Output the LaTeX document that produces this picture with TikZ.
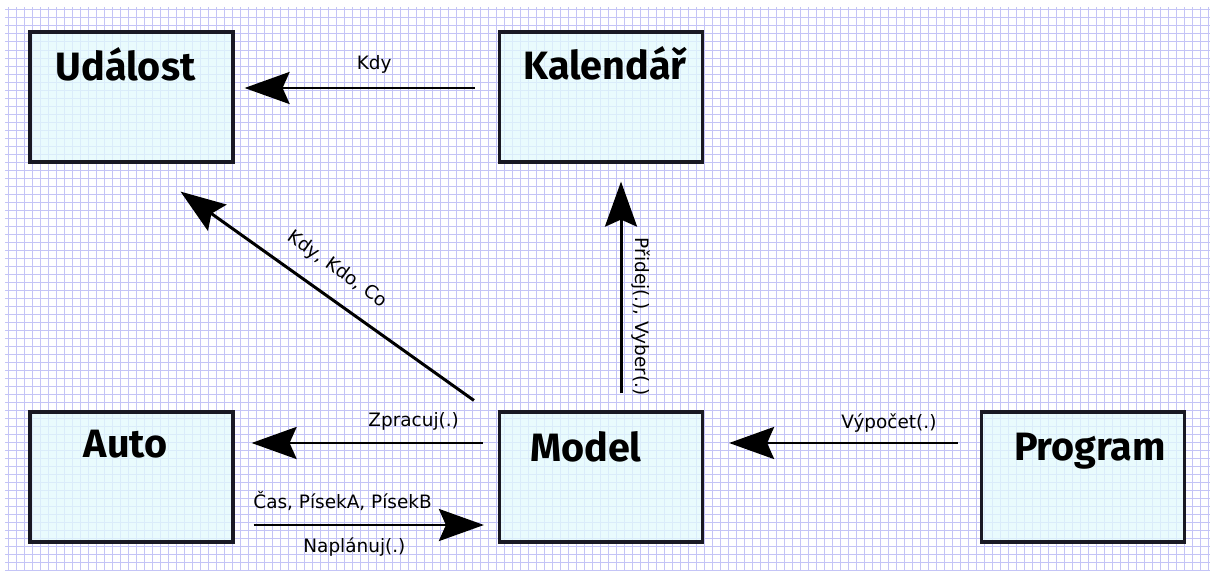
\documentclass[tikz,border=0pt]{standalone}
\usepackage{fontspec}
\setmainfont{DejaVu Sans}
\newfontfamily\boxfont{Fira Sans}
\usetikzlibrary{arrows.meta}

\definecolor{gridblue}{RGB}{196,196,246}
\definecolor{boxfill}{RGB}{226,250,252}
\definecolor{boxline}{RGB}{25,25,35}

\begin{document}
\begin{tikzpicture}[
    >={Stealth[length=0.9cm, width=0.64cm, inset=0.14cm]}, % Big arrow tips
    box/.style={draw=boxline, line width=1.8pt, fill=boxfill, fill opacity=0.75,
        minimum width=4.06cm, minimum height=2.6cm, inner sep=0pt},
    title/.style={font=\boxfont\bfseries\fontsize{22.5}{26}\selectfont, anchor=base},
    msg/.style={font=\fontsize{10.5}{12}\selectfont},
    link/.style={->, line width=1.7pt}
]

    \useasboundingbox (0, 0) rectangle (24.2, 11.4);

    % Squared paper
    \draw[gridblue, line width=0.55pt, step=0.16] (0.1, 0) grid (24.2, 11.26);

    % Classes
    \node[box] (udalost) at (2.63, 9.46) {};
    \node[box] (kalendar) at (12.02, 9.46) {};
    \node[box] (auto) at (2.63, 1.86) {};
    \node[box] (model) at (12.02, 1.86) {};
    \node[box] (program) at (21.66, 1.86) {};

    % Class names, near the top of each box
    \node[title] (udalostname) at ([xshift=-0.12cm, yshift=-1cm]udalost.north) {Událost};
    \node[title] (kalendarname) at ([xshift=0.08cm, yshift=-0.98cm]kalendar.north) {Kalendář};
    \node[title] (autoname) at ([xshift=-0.12cm, yshift=-0.94cm]auto.north) {Auto};
    \node[title] (modelname) at ([xshift=-0.3cm, yshift=-1.02cm]model.north) {Model};
    \node[title] (programname) at ([xshift=0.14cm, yshift=-1cm]program.north) {Program};

    % Messages
    \draw[link, shorten <=0.46cm, shorten >=0.2cm] ([yshift=0.18cm]kalendar.west) -- ([yshift=0.18cm]udalost.east)
        node[msg, pos=0.47, above=0.14cm] (kdy) {Kdy};
    \draw[link] ([xshift=-0.48cm, yshift=0.2cm]model.north west) -- ([xshift=0.98cm, yshift=-0.56cm]udalost.south)
        node[msg, pos=0.52, sloped, above=0.22cm] (kdykdoco) {Kdy, Kdo, Co};
    \draw[link, shorten <=0.34cm, shorten >=0.36cm] ([xshift=0.4cm]model.north) -- ([xshift=0.4cm]kalendar.south)
        node[msg, pos=0.38, rotate=-90, anchor=south, outer sep=0.1cm] (pridej) {Přidej(.), Vyber(.)};
    \draw[link, shorten <=0.3cm, shorten >=0.34cm] ([yshift=0.68cm]model.west) -- ([yshift=0.68cm]auto.east)
        node[msg, pos=0.32, above=0.1cm] (zpracuj) {Zpracuj(.)};
    \draw[link, shorten <=0.38cm, shorten >=0.28cm] ([yshift=-0.96cm]auto.east) -- ([yshift=-0.96cm]model.west)
        node[msg, pos=0.41, above=0.14cm] (cas) {Čas, PísekA, PísekB}
        node[msg, pos=0.455, below=0.1cm] (naplanuj) {Naplánuj(.)};
    \draw[link, shorten <=0.44cm, shorten >=0.5cm] ([yshift=0.68cm]program.west) -- ([yshift=0.68cm]model.east)
        node[msg, pos=0.33, above=0.06cm] (vypocet) {Výpočet(.)};

\end{tikzpicture}
\end{document}
